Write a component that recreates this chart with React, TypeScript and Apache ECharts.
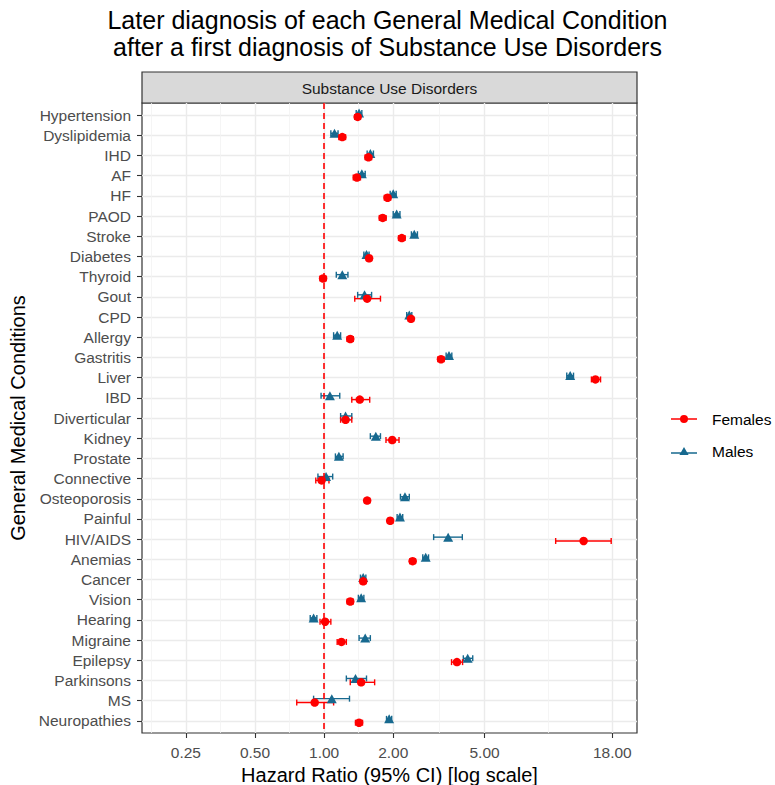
import React, { useEffect, useRef } from "react";
import * as echarts from "echarts";

const FONT = "'Liberation Sans', Arial, Helvetica, sans-serif";

const categories = [
  "Hypertension", "Dyslipidemia", "IHD", "AF", "HF", "PAOD", "Stroke", "Diabetes",
  "Thyroid", "Gout", "CPD", "Allergy", "Gastritis", "Liver", "IBD", "Diverticular",
  "Kidney", "Prostate", "Connective", "Osteoporosis", "Painful", "HIV/AIDS", "Anemias",
  "Cancer", "Vision", "Hearing", "Migraine", "Epilepsy", "Parkinsons", "MS", "Neuropathies",
];

const maleHR = [1.42, 1.11, 1.59, 1.46, 2.0, 2.07, 2.47, 1.53, 1.2, 1.5, 2.35, 1.14, 3.5, 11.8, 1.06, 1.24, 1.68, 1.16, 1.02, 2.25, 2.14, 3.47, 2.77, 1.48, 1.45, 0.9, 1.51, 4.22, 1.37, 1.08, 1.92];
const maleLo = [1.38, 1.07, 1.54, 1.41, 1.94, 2.0, 2.4, 1.49, 1.13, 1.4, 2.29, 1.1, 3.4, 11.4, 0.97, 1.18, 1.59, 1.12, 0.94, 2.15, 2.08, 3.0, 2.69, 1.44, 1.41, 0.87, 1.42, 4.04, 1.25, 0.9, 1.87];
const maleHi = [1.46, 1.15, 1.64, 1.51, 2.06, 2.14, 2.55, 1.57, 1.27, 1.61, 2.41, 1.18, 3.6, 12.2, 1.17, 1.32, 1.76, 1.21, 1.09, 2.35, 2.2, 4.0, 2.85, 1.52, 1.49, 0.93, 1.59, 4.44, 1.53, 1.29, 1.97];

const femaleHR = [1.4, 1.2, 1.56, 1.39, 1.89, 1.8, 2.18, 1.57, 0.99, 1.54, 2.39, 1.3, 3.23, 15.2, 1.43, 1.24, 1.98, null, 0.975, 1.54, 1.94, 13.5, 2.43, 1.48, 1.3, 1.01, 1.19, 3.79, 1.45, 0.91, 1.42];
const femaleLo = [1.36, 1.16, 1.51, 1.34, 1.83, 1.74, 2.11, 1.53, 0.96, 1.36, 2.33, 1.26, 3.13, 14.6, 1.32, 1.18, 1.86, null, 0.92, 1.5, 1.89, 10.2, 2.36, 1.44, 1.26, 0.96, 1.14, 3.59, 1.3, 0.76, 1.37];
const femaleHi = [1.44, 1.24, 1.61, 1.44, 1.95, 1.86, 2.25, 1.61, 1.02, 1.76, 2.45, 1.34, 3.33, 16.0, 1.58, 1.32, 2.12, null, 1.05, 1.58, 1.99, 17.8, 2.5, 1.52, 1.34, 1.07, 1.25, 4.01, 1.66, 1.1, 1.47];

const xBreaks = [0.25, 0.5, 1, 2, 5, 18];
const xLimits = [0.161, 23.06];
const refLine = 1;

const MALE_COLOR = "#17698F";
const FEMALE_COLOR = "#FF0000";

const log2 = (v: number) => Math.log(v) / Math.LN2;

export default function App() {
  const ref = useRef<HTMLDivElement>(null);

  useEffect(() => {
    if (!ref.current) return;
    const chart = echarts.init(ref.current, undefined, { renderer: "svg" });

    const major = xBreaks.map(log2);
    const minor: number[] = [];
    const ext = [log2(0.125), ...major];
    for (let i = 0; i < ext.length - 1; i++) minor.push((ext[i] + ext[i + 1]) / 2);
    const yIdx = categories.map((_, i) => i);

    const dM = -0.1;
    const dF = 0.09;

    const maleData = maleHR.map((v, i) => [log2(v), i + dM]);
    const femaleData: any[] = [];
    femaleHR.forEach((v, i) => {
      if (v != null) femaleData.push([log2(v), i + dF]);
    });
    const maleErr = maleLo.map((lo, i) => [log2(lo), log2(maleHi[i]), i + dM]);
    const femaleErr: any[] = [];
    femaleLo.forEach((lo, i) => {
      if (lo != null && femaleHi[i] != null) femaleErr.push([log2(lo), log2(femaleHi[i] as number), i + dF]);
    });

    const errRender = (color: string) => (params: any, api: any) => {
      const a = api.coord([api.value(0), api.value(2)]);
      const b = api.coord([api.value(1), api.value(2)]);
      const h = 3;
      const style = { stroke: color, lineWidth: 1.4 };
      return {
        type: "group",
        children: [
          { type: "line", shape: { x1: a[0], y1: a[1], x2: b[0], y2: b[1] }, style },
          { type: "line", shape: { x1: a[0], y1: a[1] - h, x2: a[0], y2: a[1] + h }, style },
          { type: "line", shape: { x1: b[0], y1: b[1] - h, x2: b[0], y2: b[1] + h }, style },
        ],
      };
    };

    const fmt = (v: number) => Math.pow(2, v).toFixed(2);

    chart.setOption({
      animation: false,
      textStyle: { fontFamily: FONT },
      title: {
        text: "Later diagnosis of each General Medical Condition\nafter a first diagnosis of Substance Use Disorders",
        left: "center",
        top: 1,
        textStyle: { fontSize: 25, fontWeight: "normal", lineHeight: 27, color: "#000", fontFamily: FONT },
      },
      legend: {
        orient: "vertical",
        left: 666,
        top: 406,
        itemGap: 16,
        itemWidth: 26,
        itemHeight: 8,
        data: [
          { name: "Females", icon: "path://M0,4.2 L26,4.2 L26,5.8 L0,5.8 Z M17,5 A4,4 0 1,1 9,5 A4,4 0 1,1 17,5 Z" },
          { name: "Males", icon: "path://M0,6.2 L26,6.2 L26,7.8 L0,7.8 Z M13,1 L17.6,9 L8.4,9 Z" },
        ],
        textStyle: { fontSize: 15.5, color: "#000", fontFamily: FONT, padding: [0, 0, 0, 10] },
      },
      grid: {
        left: 142,
        top: 103,
        width: 495,
        height: 630,
        outerBoundsMode: "none",
        containLabel: false,
        show: true,
        borderColor: "#333333",
        borderWidth: 1.2,
        backgroundColor: "transparent",
      },
      xAxis: [
        {
          type: "value",
          min: log2(xLimits[0]),
          max: log2(xLimits[1]),
          position: "bottom",
          name: "Hazard Ratio (95% CI) [log scale]",
          nameLocation: "middle",
          nameGap: 31,
          nameTextStyle: { fontSize: 20, color: "#000", fontFamily: FONT },
          axisLine: { show: false, onZero: false },
          axisTick: { show: true, length: 5, lineStyle: { color: "#333333", width: 1.1 }, customValues: major },
          axisLabel: { customValues: major, formatter: fmt, color: "#4D4D4D", fontSize: 15.5, margin: 11, fontFamily: FONT },
          splitLine: { show: true, lineStyle: { color: "#EBEBEB", width: 1.4 } },
        },
        {
          type: "value",
          min: log2(xLimits[0]),
          max: log2(xLimits[1]),
          position: "bottom",
          axisLine: { show: false, onZero: false },
          axisTick: { show: false, customValues: minor },
          axisLabel: { show: false },
          splitLine: { show: true, lineStyle: { color: "#F2F2F2", width: 0.8 } },
        },
      ],
      yAxis: {
        type: "value",
        inverse: true,
        min: -0.6,
        max: categories.length - 1 + 0.6,
        name: "General Medical Conditions",
        nameLocation: "middle",
        nameRotate: 90,
        nameGap: 114,
        nameTextStyle: { fontSize: 20, color: "#000", fontFamily: FONT },
        axisLine: { show: false, onZero: false },
        axisTick: { show: true, length: 5, lineStyle: { color: "#333333", width: 1.1 }, customValues: yIdx },
        axisLabel: {
          customValues: yIdx,
          formatter: (v: number) => categories[Math.round(v)] ?? "",
          color: "#4D4D4D",
          fontSize: 15.5,
          margin: 11,
          fontFamily: FONT,
        },
        splitLine: { show: true, lineStyle: { color: "#EBEBEB", width: 1.4 } },
      },
      graphic: [
        {
          type: "rect",
          shape: { x: 142, y: 72, width: 495, height: 31 },
          style: { fill: "#D9D9D9", stroke: "#333333", lineWidth: 1.2 },
        },
        {
          type: "text",
          x: 389.5,
          y: 88,
          style: {
            text: "Substance Use Disorders",
            fontSize: 15.5,
            fill: "#1A1A1A",
            align: "center",
            verticalAlign: "middle",
            fontFamily: FONT,
          },
        },
      ],
      series: [
        {
          name: "Males",
          type: "custom",
          renderItem: errRender(MALE_COLOR),
          encode: { x: [0, 1], y: 2 },
          data: maleErr,
          itemStyle: { color: MALE_COLOR },
          z: 3,
        },
        {
          name: "Females",
          type: "custom",
          renderItem: errRender(FEMALE_COLOR),
          encode: { x: [0, 1], y: 2 },
          data: femaleErr,
          itemStyle: { color: FEMALE_COLOR },
          z: 3,
        },
        {
          name: "Males",
          type: "scatter",
          symbol: "triangle",
          symbolSize: [10, 9],
          data: maleData,
          itemStyle: { color: MALE_COLOR, opacity: 1 },
          z: 4,
        },
        {
          name: "Females",
          type: "scatter",
          symbol: "circle",
          symbolSize: 8.5,
          data: femaleData,
          itemStyle: { color: FEMALE_COLOR, opacity: 1 },
          z: 5,
          markLine: {
            silent: true,
            symbol: "none",
            label: { show: false },
            lineStyle: { color: FEMALE_COLOR, type: [6, 4], width: 1.6 },
            data: [{ xAxis: log2(refLine) }],
            z: 6,
          },
        },
      ],
    });

    return () => chart.dispose();
  }, []);

  return (
    <div
      ref={ref}
      style={{ position: "fixed", left: 0, top: 0, width: 775, height: 785, background: "#fff" }}
    />
  );
}
